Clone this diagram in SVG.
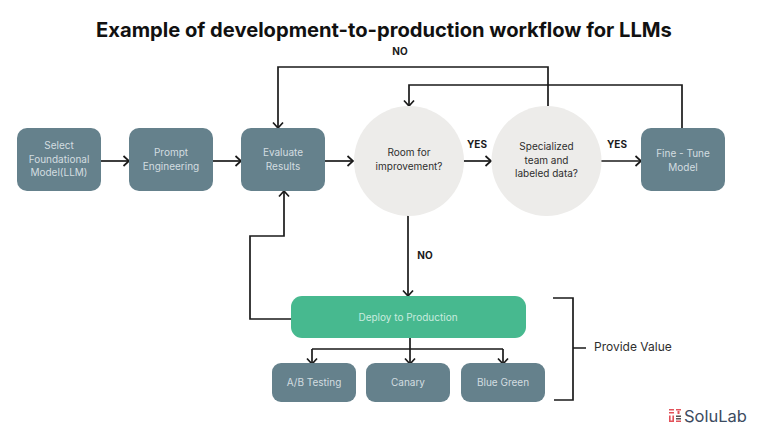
<svg xmlns="http://www.w3.org/2000/svg" width="768" height="432" viewBox="0 0 768 432">
<style>
text{font-family:Inter,"Liberation Sans",sans-serif}
.box{fill:#65818c}
.lt{fill:#d3dde0;font-size:10px;text-anchor:middle}
.dk{fill:#2e2e2e;font-size:10px;text-anchor:middle}
.lb{fill:#1a1a1a;font-size:10px;font-weight:700;text-anchor:middle}
.circ{fill:#edecea}
.c{fill:none;stroke:#1a1a1a;stroke-width:1.7}
.a{marker-end:url(#ah)}
.r{fill:#e2525a}
</style>
<defs>
<marker id="ah" markerUnits="userSpaceOnUse" markerWidth="12" markerHeight="12" refX="9" refY="6" orient="auto"><path d="M3.5 1 L9 6 L3.5 11" fill="none" stroke="#1a1a1a" stroke-width="1.7"/></marker>
</defs>
<rect width="768" height="432" fill="#fff"/>
<text x="384" y="37" font-size="20.15" font-weight="700" text-anchor="middle" fill="#111">Example of development-to-production workflow for LLMs</text>
<g id="connectors">
<path class="c a" d="M101 161H129"/>
<path class="c a" d="M213 161H241"/>
<path class="c a" d="M325 161H353"/>
<path class="c a" d="M463 161H491"/>
<path class="c a" d="M601 161H641"/>
<path class="c a" d="M548 106V67H278V128"/>
<path class="c a" d="M682 128V85H409V106"/>
<path class="c a" d="M408 215V296"/>
<path class="c a" d="M291 319H250V236H284V191"/>
<path class="c" d="M410 338V349M312 349H503"/>
<path class="c a" d="M312 349V364"/>
<path class="c a" d="M410 349V364"/>
<path class="c a" d="M503 349V364"/>
<path class="c" d="M553 298H573V400H554M573 348H586"/>
</g>
<g id="n1"><rect class="box" x="17" y="128" width="84" height="63" rx="10"/><text class="lt" x="59" y="149">Select</text><text class="lt" x="59" y="163">Foundational</text><text class="lt" x="59" y="176">Model(LLM)</text></g>
<g id="n2"><rect class="box" x="129" y="128" width="84" height="63" rx="10"/><text class="lt" x="171" y="156">Prompt</text><text class="lt" x="171" y="170">Engineering</text></g>
<g id="n3"><rect class="box" x="241" y="128" width="84" height="63" rx="10"/><text class="lt" x="283" y="156">Evaluate</text><text class="lt" x="283" y="170">Results</text></g>
<g id="n4"><circle class="circ" cx="409" cy="161" r="55"/><text class="dk" x="409" y="156">Room for</text><text class="dk" x="409" y="170">improvement?</text></g>
<g id="n5"><circle class="circ" cx="546.5" cy="161" r="55"/><text class="dk" x="546.5" y="150">Specialized</text><text class="dk" x="546.5" y="164">team and</text><text class="dk" x="546.5" y="177">labeled data?</text></g>
<g id="n6"><rect class="box" x="641" y="128" width="84" height="63" rx="10"/><text class="lt" x="683" y="157">Fine - Tune</text><text class="lt" x="683" y="171">Model</text></g>
<g id="n7"><rect x="291" y="296" width="235" height="42" rx="11" fill="#47b98f"/><text class="lt" x="408" y="321" style="fill:#c9ecdf">Deploy to Production</text></g>
<g id="n8"><rect class="box" x="272" y="363" width="84" height="39" rx="9"/><text class="lt" x="314" y="386">A/B Testing</text></g>
<g id="n9"><rect class="box" x="366" y="363" width="84" height="39" rx="9"/><text class="lt" x="408" y="386">Canary</text></g>
<g id="n10"><rect class="box" x="461" y="363" width="84" height="39" rx="9"/><text class="lt" x="503" y="386">Blue Green</text></g>
<g id="labels">
<text class="lb" x="400" y="55">NO</text>
<text class="lb" x="477" y="148">YES</text>
<text class="lb" x="617" y="148">YES</text>
<text class="lb" x="425" y="259">NO</text>
<text x="594" y="351" font-size="12" fill="#2e2e2e">Provide Value</text>
</g>
<g id="logo">
<rect class="r" x="669" y="409" width="5" height="1.5"/><rect class="r" x="669" y="412" width="5" height="1.5"/><rect class="r" x="676" y="409" width="5" height="1.5"/><rect class="r" x="677.5" y="411" width="2" height="3"/>
<rect class="r" x="669" y="415.5" width="1.6" height="6.5"/><rect class="r" x="672.4" y="415.5" width="1.6" height="6.5"/><rect class="r" x="669" y="420.5" width="5" height="1.5"/>
<rect x="676" y="415.5" width="5" height="1.5" fill="#555"/><rect x="676" y="418" width="5" height="1.5" fill="#555"/><rect class="r" x="676" y="420.5" width="5" height="1.5"/>
<text x="684" y="421.5" font-size="16.5" fill="#3c4b60">SoluLab</text>
</g>
</svg>
